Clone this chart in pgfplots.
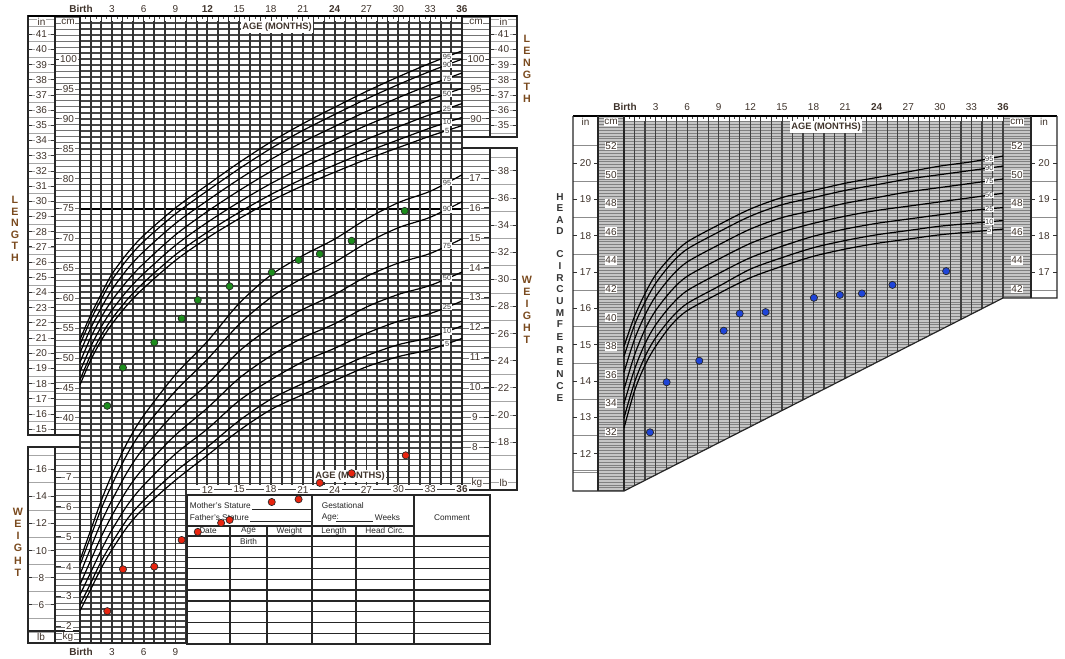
\documentclass[border=0pt]{standalone}
\usepackage{pgfplots}
\pgfplotsset{compat=1.18}
\usepackage{pgfplotstable}
\usepackage{fontspec}
\setmainfont{Liberation Sans}
\definecolor{txt}{HTML}{40342C}
\definecolor{ltr}{HTML}{7A4A1E}
\definecolor{gfill}{HTML}{1C8C1C}
\definecolor{rfill}{HTML}{E8240F}
\definecolor{bfill}{HTML}{1E44D8}
\definecolor{hcgray}{HTML}{C6C6C6}
\newcommand\fA{\fontsize{7.5}{8}\selectfont}
\newcommand\fB{\fontsize{6.2}{7}\selectfont}
\newcommand\fC{\fontsize{5.6}{6}\selectfont}
\tikzset{
  vline/.style={black!80,line width=1.45pt},
  hline/.style={black!72,line width=1.2pt},
  cline/.style={black!55,line width=0.6pt},
  frame/.style={black!85,line width=0.9pt},
  num/.style={font=\fA,text=txt,inner sep=0.6pt,fill=white},
  mon/.style={font=\fA,text=txt,inner sep=0.6pt},
  monb/.style={font=\fA\bfseries,text=txt,inner sep=0.6pt},
  ltrs/.style={font=\fontsize{8}{8}\selectfont\bfseries,text=ltr,inner sep=0pt},
  hltr/.style={font=\fontsize{7.5}{8}\selectfont\bfseries,text=black!80,inner sep=0pt},
  tbl/.style={font=\fB,text=black!85,inner sep=0.5pt},
  plab/.style={font=\fC,fill=white,inner sep=0.5pt,text=black!80},
  agebox/.style={font=\fontsize{7}{7}\selectfont\bfseries,text=txt,fill=white,inner sep=1pt},
}
\pgfplotsset{pcurve/.style={black,line width=0.9pt,smooth,no markers}}

\pgfplotstableread{
t p5 p10 p25 p50 p75 p90 p95
0 45.52 46.35 47.75 49.3 50.85 52.25 53.08
1 49.62 50.45 51.85 53.4 54.95 56.35 57.18
2 52.93 53.79 55.22 56.8 58.38 59.81 60.67
3 55.65 56.52 57.98 59.6 61.4 63.0 64.0
4.5 58.97 59.86 61.35 63.0 64.95 66.6 67.6
6 61.69 62.6 64.11 65.8 67.8 69.5 70.5
9 66.32 67.27 68.85 70.6 72.5 74.1 75.1
12 70.06 71.04 72.68 74.5 76.32 77.96 78.94
15 73.31 74.35 76.08 78.0 79.92 81.65 82.69
18 76.26 77.35 79.18 81.2 83.22 85.05 86.14
21 78.82 79.96 81.88 84.0 86.12 88.04 89.18
24 81.07 82.27 84.28 86.5 88.72 90.73 91.93
27 83.22 84.48 86.57 88.9 91.23 93.32 94.58
30 85.18 86.48 88.67 91.1 93.53 95.72 97.02
33 87.11 88.46 90.71 93.2 95.69 97.94 99.29
36 88.85 90.23 92.54 95.1 97.66 99.97 101.35
}\lentab

\pgfplotstableread{
t p5 p10 p25 p50 p75 p90 p95
0 2.52 2.72 3.06 3.4 3.74 4.05 4.22
1 3.23 3.44 3.80 4.2 4.62 5.0 5.21
2 3.95 4.18 4.55 5.0 5.48 5.93 6.2
3 4.56 4.79 5.22 5.7 6.21 6.73 7.07
4.5 5.35 5.61 6.07 6.6 7.19 7.79 8.18
6 5.95 6.21 6.72 7.3 7.96 8.61 9.05
9 6.89 7.18 7.77 8.4 9.16 9.87 10.42
12 7.72 8.0 8.6 9.3 10.09 10.93 11.53
15 8.55 8.88 9.55 10.3 11.2 12.1 12.8
18 9.25 9.6 10.25 11.05 12.0 13.0 13.75
21 9.75 10.12 10.85 11.65 12.6 13.65 14.4
24 10.22 10.58 11.3 12.12 13.1 14.18 14.95
27 10.68 11.05 11.8 12.68 13.7 14.82 15.62
30 11.02 11.42 12.2 13.1 14.15 15.33 16.17
33 11.26 11.66 12.46 13.4 14.47 15.68 16.55
36 11.63 12.05 12.88 13.85 14.96 16.2 17.1
}\wttab

\pgfplotstableread{
t p5 p10 p25 p50 p75 p90 p95
0 32.3 33.0 34.0 35.0 36.2 37.3 38.0
1 34.9 35.5 36.4 37.4 38.5 39.5 40.1
2 36.7 37.3 38.2 39.2 40.2 41.1 41.7
3 38.0 38.6 39.5 40.5 41.5 42.4 43.0
4.5 39.5 40.0 40.9 41.9 42.9 43.8 44.3
6 40.5 41.0 41.9 42.9 43.9 44.8 45.3
9 41.7 42.2 43.1 44.1 45.1 46.0 46.5
12 42.8 43.4 44.2 45.2 46.2 47.1 47.6
15 43.6 44.2 45.0 46.0 47.0 47.9 48.4
18 44.3 44.9 45.7 46.6 47.5 48.4 48.9
21 44.8 45.4 46.2 47.1 48.0 48.9 49.4
24 45.2 45.8 46.6 47.5 48.4 49.3 49.8
27 45.5 46.1 46.9 47.8 48.8 49.7 50.2
30 45.8 46.4 47.2 48.1 49.1 50.0 50.6
33 46.0 46.6 47.5 48.4 49.4 50.3 50.9
36 46.2 46.8 47.7 48.7 49.7 50.6 51.3
}\hctab

\begin{document}
\begin{tikzpicture}
\path[use as bounding box] (0,0) rectangle (798.75pt,-493.5pt);
\begin{scope}[x=0.75pt,y=-0.75pt]
%================ LEFT CHART: grid =================
\foreach \cc in {3,...,107}{
  \pgfmathsetmacro\yy{657-5.98*\cc}
  \pgfmathsetmacro\xr{ifthenelse(\yy>486,187,462)}
  \draw[hline] (80,\yy) -- (\xr,\yy);
}
\draw[black,line width=1.5pt] (80,208.5) -- (462,208.5);
\foreach \m in {0,...,36}{
  \pgfmathsetmacro\xx{80+10.611*\m}
  \pgfmathsetmacro\yb{ifthenelse(\m>10,485,643)}
  \draw[vline] (\xx,21) -- (\xx,\yb);
}
% top ruler
\fill[white] (80,16) rectangle (462,21);
\foreach \m in {0,...,36}{\draw[black!80,line width=0.6pt] ({80+10.611*\m},16) -- ({80+10.611*\m},21);}
\foreach \m in {0,...,35}{\draw[black!70,line width=0.5pt] ({85.3+10.611*\m},16) -- ({85.3+10.611*\m},19);}

%---- left length columns
\fill[white] (28,16) rectangle (80,435);
\foreach \cc in {38,...,107}{\draw[cline] (55,{657-5.98*\cc}) -- (80,{657-5.98*\cc});}
\foreach \h in {15,15.5,...,42}{\draw[black!35,line width=0.5pt] (28,{657-15.19*\h}) -- (55,{657-15.19*\h});}
\draw[frame] (28,16) rectangle (80,435); \draw[frame] (55,16) -- (55,435);
\foreach \ii in {15,...,41}{
  \draw[black!80,line width=0.6pt] (28,{657-15.19*\ii}) -- (32,{657-15.19*\ii}) (51,{657-15.19*\ii}) -- (55,{657-15.19*\ii});
  \node[num] at (41.5,{657-15.19*\ii}) {\ii};}
\foreach \cc in {40,45,...,100}{
  \draw[black!80,line width=0.6pt] (55,{657-5.98*\cc}) -- (59,{657-5.98*\cc});
  \node[num] at (68.5,{657-5.98*\cc}) {\cc};}
\node[num] at (41.5,22) {in}; \node[num] at (68,22) {cm};

%---- left weight columns
\fill[white] (28,447) rectangle (80,643);
\foreach \cc in {3,...,35}{\draw[cline] (55,{657-5.98*\cc}) -- (80,{657-5.98*\cc});}
\foreach \lb in {4,...,17}{\draw[black!35,line width=0.5pt] (28,{686.2-13.563*\lb}) -- (55,{686.2-13.563*\lb});}
\draw[frame] (28,447) rectangle (80,643); \draw[frame] (55,447) -- (55,643);
\draw[frame] (28,631) -- (80,631);
\foreach \lb in {6,8,...,16}{
  \draw[black!80,line width=0.6pt] (28,{686.2-13.563*\lb}) -- (32,{686.2-13.563*\lb}) (51,{686.2-13.563*\lb}) -- (55,{686.2-13.563*\lb});
  \node[num] at (41.5,{686.2-13.563*\lb}) {\lb};}
\foreach \kg in {2,...,7}{
  \draw[black!80,line width=0.6pt] (55,{686.2-29.9*\kg}) -- (61,{686.2-29.9*\kg});
  \node[num] at (69,{686.2-29.9*\kg}) {\kg};}
\node[num] at (41,637) {lb}; \node[num] at (68,637) {kg};

%---- right length columns
\fill[white] (462,16) rectangle (517,137);
\foreach \cc in {87,...,107}{\draw[cline] (462,{657-5.98*\cc}) -- (490,{657-5.98*\cc});}
\foreach \h in {34.5,35,...,42}{\draw[black!35,line width=0.5pt] (490,{657-15.19*\h}) -- (517,{657-15.19*\h});}
\draw[frame] (462,16) rectangle (517,137); \draw[frame] (490,16) -- (490,137);
\foreach \ii in {35,...,41}{
  \draw[black!80,line width=0.6pt] (490,{657-15.19*\ii}) -- (494,{657-15.19*\ii}) (513,{657-15.19*\ii}) -- (517,{657-15.19*\ii});
  \node[num] at (503.5,{657-15.19*\ii}) {\ii};}
\foreach \cc in {90,95,100}{
  \draw[black!80,line width=0.6pt] (486,{657-5.98*\cc}) -- (490,{657-5.98*\cc});
  \node[num] at (476,{657-5.98*\cc}) {\cc};}
\node[num] at (476,22) {cm}; \node[num] at (503.5,22) {in};

%---- table and lower label strip
\fill[white] (187,485) rectangle (462,495);
\fill[white] (187,495) rectangle (490,644);
\draw[black!75,line width=0.6pt] (187,489.5) -- (462,489.5);
\foreach \m in {12,15,...,33}{\node[mon,fill=white,inner sep=1pt] at ({80+10.611*\m},489.5) {\m};}
\node[agebox] at (350,476) {AGE (MONTHS)};
\draw[frame] (187,495) rectangle (490,644);
\draw[frame] (312,495) -- (312,644) (414,495) -- (414,644);
\draw[frame] (187,526) -- (414,526);
\draw[frame] (230,526) -- (230,644) (267,526) -- (267,644) (356,526) -- (356,644);
\foreach \y in {536,546.7,557.3,568.3,579.3,590,601,611.7,622.7,633.3}{\draw[frame] (187,\y) -- (490,\y);}
\node[tbl,anchor=west] at (189,506) {Mother's Stature};
\draw[black!85,line width=0.5pt] (252,509.5) -- (311,509.5);
\node[tbl,anchor=west] at (189,518) {Father's Stature};
\draw[black!85,line width=0.5pt] (250,521) -- (311,521);
\node[tbl,anchor=west] at (321,506) {Gestational};
\node[tbl,anchor=west] at (321,518) {Age:};
\draw[black!85,line width=0.5pt] (336,521) -- (373,521);
\node[tbl,anchor=west] at (374,518) {Weeks};
\node[tbl] at (452,518) {Comment};
\node[tbl] at (208,531) {Date};
\node[tbl] at (248.5,531) {Age};
\node[tbl] at (289.5,531) {Weight};
\node[tbl] at (334,531) {Length};
\node[tbl] at (385,531) {Head Circ.};
\node[tbl] at (248.5,542) {Birth};

%---- right weight columns
\fill[white] (462,148) rectangle (517,490);
\foreach \cc in {29,...,85}{\draw[cline] (462,{657-5.98*\cc}) -- (490,{657-5.98*\cc});}
\foreach \lb in {15,...,39}{\draw[black!35,line width=0.5pt] (490,{686.2-13.563*\lb}) -- (517,{686.2-13.563*\lb});}
\draw[frame] (462,148) rectangle (517,490); \draw[frame] (490,148) -- (490,490);
\foreach \kg in {8,...,17}{
  \draw[black!80,line width=0.6pt] (484,{686.2-29.9*\kg}) -- (490,{686.2-29.9*\kg});
  \node[num] at (475,{686.2-29.9*\kg}) {\kg};}
\foreach \lb in {18,20,...,38}{
  \draw[black!80,line width=0.6pt] (490,{686.2-13.563*\lb}) -- (494,{686.2-13.563*\lb}) (513,{686.2-13.563*\lb}) -- (517,{686.2-13.563*\lb});
  \node[num] at (503.5,{686.2-13.563*\lb}) {\lb};}
\node[num] at (477,483) {kg}; \node[num] at (503.5,483) {lb};
\node[monb,fill=white,inner sep=1pt] at (462,489.5) {36};

% frame lines
\draw[black,line width=1.1pt] (28,16) -- (517,16);
\draw[frame] (28,643) -- (187,643);

% month labels top
\node[monb] at (81,9) {Birth};
\foreach \m in {3,6,9,15,18,21,27,30,33}{\node[mon] at ({80+10.611*\m},9) {\m};}
\foreach \m in {12,24,36}{\node[monb] at ({80+10.611*\m},9) {\m};}
\node[agebox] at (277,27) {AGE (MONTHS)};
% bottom labels
\node[monb] at (81,652) {Birth};
\foreach \m in {3,6,9}{\node[mon] at ({80+10.611*\m},652) {\m};}

% letters
\foreach \l/\y in {L/200,E/211.5,N/223,G/234.5,T/246,H/257.5}{\node[ltrs] at (15,\y) {\l};}
\foreach \l/\y in {W/512,E/524,I/535.5,G/548,H/561,T/573}{\node[ltrs] at (18,\y) {\l};}
\foreach \l/\y in {L/39,E/51,N/63,G/75,T/87,H/99}{\node[ltrs] at (527,\y) {\l};}
\foreach \l/\y in {W/280,E/292,I/304,G/316,H/328,T/340}{\node[ltrs] at (527,\y) {\l};}

%================ HEAD CIRCUMFERENCE CHART =================
\begin{scope}
\clip (598,116) -- (1031,116) -- (1031,298) -- (1003,298) -- (624,491) -- (598,491) -- cycle;
\fill[hcgray] (590,110) rectangle (1040,500);
\foreach \k in {0,...,131}{\draw[black!50,line width=0.6pt] (598,{116+2.86*\k}) -- (1031,{116+2.86*\k});}
\foreach \m in {0,...,36}{\draw[black!75,line width=0.9pt] ({624+10.528*\m},116) -- ({624+10.528*\m},491);}
\end{scope}
\fill[white] (624,116) rectangle (1003,121);
\foreach \m in {0,...,36}{\draw[black!80,line width=0.6pt] ({624+10.528*\m},116) -- ({624+10.528*\m},121);}
\foreach \m in {0,...,35}{\draw[black!70,line width=0.5pt] ({629.3+10.528*\m},116) -- ({629.3+10.528*\m},119);}
% inch columns
\fill[white] (573,116) rectangle (598,491);
\fill[white] (1031,116) rectangle (1057,298);
\foreach \h in {11.5,12.5,...,20.5}{\draw[black!45,line width=0.6pt] (573,{889.6-36.32*\h}) -- (598,{889.6-36.32*\h});}
\foreach \h in {16.5,17.5,...,20.5}{\draw[black!45,line width=0.6pt] (1031,{889.6-36.32*\h}) -- (1057,{889.6-36.32*\h});}
\draw[black!45,line width=0.6pt] (573,470) -- (598,470);
\foreach \ii in {12,...,20}{
  \draw[black!80,line width=0.6pt] (573,{889.6-36.32*\ii}) -- (577,{889.6-36.32*\ii}) (594,{889.6-36.32*\ii}) -- (598,{889.6-36.32*\ii});
  \node[num] at (585.5,{889.6-36.32*\ii}) {\ii};}
\foreach \ii in {17,...,20}{
  \draw[black!80,line width=0.6pt] (1031,{889.6-36.32*\ii}) -- (1035,{889.6-36.32*\ii}) (1053,{889.6-36.32*\ii}) -- (1057,{889.6-36.32*\ii});
  \node[num] at (1044,{889.6-36.32*\ii}) {\ii};}
\foreach \cc in {32,34,...,52}{\node[num] at (611,{146+(52-\cc)*14.3}) {\cc};}
\foreach \cc in {42,44,...,52}{\node[num] at (1017,{146+(52-\cc)*14.3}) {\cc};}
\node[num] at (585.5,122) {in}; \node[num] at (611,122) {cm};
\node[num] at (1017,122) {cm}; \node[num] at (1044,122) {in};
% frames
\draw[black,line width=1.1pt] (573,116) -- (1057,116);
\draw[frame] (573,116) -- (573,491) -- (624,491) -- (1003,298) -- (1057,298) -- (1057,116);
\draw[frame] (598,116) -- (598,491) (624,116) -- (624,491) (1031,116) -- (1031,298);
% labels
\node[monb] at (625,107) {Birth};
\foreach \m in {3,6,9,12,15,18,21,27,30,33}{\node[mon] at ({624+10.528*\m},107) {\m};}
\foreach \m in {24,36}{\node[monb] at ({624+10.528*\m},107) {\m};}
\node[agebox] at (826,127) {AGE (MONTHS)};
\foreach \l/\y in {H/197,E/208.5,A/220,D/231.5,C/254,I/266,R/278,C/289.5,U/301,M/313,F/324.5,E/337,R/350,E/362,N/374,C/386,E/398}{\node[hltr] at (560,\y) {\l};}
\end{scope}

%================ DATA AXES =================
% length curves
\begin{axis}[at={(60pt,-482.25pt)},anchor=south west,scale only axis,width=286.5pt,height=470.25pt,
  xmin=0,xmax=36,ymin=2.34,ymax=107.19,hide axis,clip=false]
\pgfplotsinvokeforeach{p5,p10,p25,p50,p75,p90,p95}{\addplot[pcurve] table[x=t,y=#1]{\lentab};}
\node[plab] at (axis cs:34.6,100.39) {95};
\node[plab] at (axis cs:34.6,99.02) {90};
\node[plab] at (axis cs:34.6,96.74) {75};
\node[plab] at (axis cs:34.6,94.21) {50};
\node[plab] at (axis cs:34.6,91.69) {25};
\node[plab] at (axis cs:34.6,89.40) {10};
\node[plab] at (axis cs:34.6,88.04) {5};
\end{axis}
% weight curves and points
\begin{axis}[at={(60pt,-482.25pt)},anchor=south west,scale only axis,width=286.5pt,height=470.25pt,
  xmin=0,xmax=36,ymin=1.445,ymax=22.41,hide axis,clip=false]
\pgfplotsinvokeforeach{p5,p10,p25,p50,p75,p90,p95}{\addplot[pcurve] table[x=t,y=#1]{\wttab};}
\node[plab] at (axis cs:34.6,16.84) {95};
\node[plab] at (axis cs:34.6,15.95) {90};
\node[plab] at (axis cs:34.6,14.73) {75};
\node[plab] at (axis cs:34.6,13.64) {50};
\node[plab] at (axis cs:34.6,12.68) {25};
\node[plab] at (axis cs:34.6,11.87) {10};
\node[plab] at (axis cs:34.6,11.46) {5};
\addplot[only marks,mark=*,mark size=2.7pt,mark options={fill=rfill,draw=black!85,line width=0.5pt}] coordinates {
(2.57,2.51) (4.05,3.91) (7.0,4.0) (9.58,4.89) (11.1,5.16) (13.3,5.46) (14.1,5.56) (18.07,6.16) (20.6,6.25) (22.6,6.80) (25.6,7.12) (30.7,7.72)};
\end{axis}
% length points
\begin{axis}[at={(60pt,-482.25pt)},anchor=south west,scale only axis,width=286.5pt,height=470.25pt,
  xmin=0,xmax=36,ymin=2.34,ymax=107.19,hide axis,clip=false]
\addplot[only marks,mark=*,mark size=2.7pt,mark options={fill=gfill,draw=black!85,line width=0.5pt}] coordinates {
(2.57,42.0) (4.05,48.4) (7.0,52.6) (9.58,56.6) (11.1,59.7) (14.1,62.0) (18.07,64.3) (20.6,66.4) (22.6,67.4) (25.6,69.6) (30.6,74.6)};
\end{axis}
% head circumference
\begin{axis}[at={(468pt,-368.25pt)},anchor=south west,scale only axis,width=284.25pt,height=281.25pt,
  xmin=0,xmax=36,ymin=27.9,ymax=54.1,hide axis,clip=false]
\pgfplotsinvokeforeach{p5,p10,p25,p50,p75,p90,p95}{\addplot[pcurve] table[x=t,y=#1]{\hctab};}
\node[plab] at (axis cs:34.7,51.13) {95};
\node[plab] at (axis cs:34.7,50.47) {90};
\node[plab] at (axis cs:34.7,49.57) {75};
\node[plab] at (axis cs:34.7,48.57) {50};
\node[plab] at (axis cs:34.7,47.61) {25};
\node[plab] at (axis cs:34.7,46.71) {10};
\node[plab] at (axis cs:34.7,46.11) {5};
\addplot[only marks,mark=*,mark size=2.7pt,mark options={fill=bfill,draw=black!85,line width=0.5pt}] coordinates {
(2.47,32.0) (4.05,35.5) (7.15,37.0) (9.47,39.1) (10.99,40.3) (13.45,40.4) (18.04,41.4) (20.5,41.6) (22.6,41.7) (25.5,42.3) (30.6,43.26)};
\end{axis}
\end{tikzpicture}
\end{document}
